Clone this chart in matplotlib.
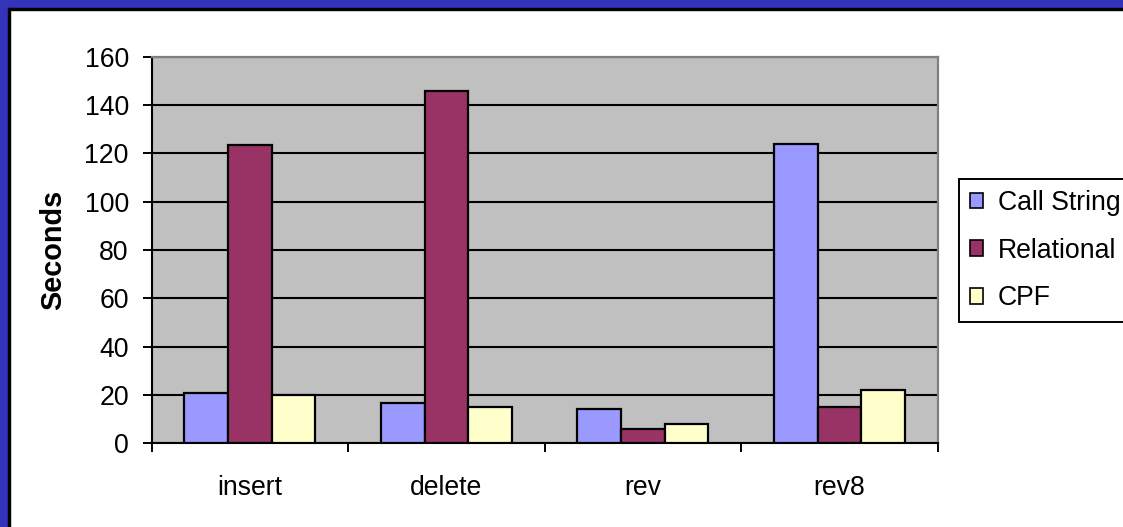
import matplotlib
matplotlib.use("Agg")
import matplotlib.pyplot as plt
import numpy as np
from matplotlib.patches import Rectangle

categories = ["insert", "delete", "rev", "rev8"]
series_names = ["Call String", "Relational", "CPF"]
call_string = [21, 16.5, 14, 124]
relational = [123.5, 146, 6, 15]
cpf = [20, 15, 8, 22]
colors = ["#9999FF", "#993366", "#FFFFCC"]
yticks = [0, 20, 40, 60, 80, 100, 120, 140, 160]

plt.rcParams['font.family'] = ['Liberation Sans', 'DejaVu Sans']

W, H = 1123, 527
FS = 19.2
fig = plt.figure(figsize=(W / 100, H / 100), dpi=100)
fig.patch.set_facecolor("white")

# frame (blue band + black line on top and left)
blue = "#3333BB"
fig.patches.append(Rectangle((0, 1 - 8 / H), 1, 8 / H, transform=fig.transFigure, color=blue, zorder=0))
fig.patches.append(Rectangle((8 / W, 1 - 10 / H), 1, 2 / H, transform=fig.transFigure, color="black", zorder=0))
fig.patches.append(Rectangle((0, 0), 8 / W, 1, transform=fig.transFigure, color=blue, zorder=0))
fig.patches.append(Rectangle((8 / W, 0), 2 / W, 1 - 8 / H, transform=fig.transFigure, color="black", zorder=0))

left, right = 151.7 / W, 937.7 / W
bottom, top = (H - 443.3) / H, (H - 56.7) / H
ax = fig.add_axes([left, bottom, right - left, top - bottom])
ax.set_facecolor("#C0C0C0")

n = len(categories)
x = np.arange(n)
bw = 1 / 4.5
data = [call_string, relational, cpf]
for i, (vals, name, c) in enumerate(zip(data, series_names, colors)):
    ax.bar(x + (i - 1) * bw, vals, width=bw, color=c, edgecolor="black",
           linewidth=1.6, label=name, zorder=3)

ax.set_xlim(-0.5, n - 0.5)
ax.set_ylim(0, 160)
ax.set_yticks(yticks)
ax.set_yticklabels([str(v) for v in yticks], fontsize=FS)
ax.yaxis.grid(True, color="black", linewidth=1.5, zorder=1)
ax.set_axisbelow(True)

ax.set_xticks(x)
ax.set_xticklabels(categories, fontsize=FS)
ax.set_xticks(np.arange(n + 1) - 0.5, minor=True)
ax.tick_params(axis="x", which="major", length=0, pad=22.5)
ax.tick_params(axis="x", which="minor", length=6.5, width=1.4, color="black", direction="out")
ax.tick_params(axis="y", length=6.5, width=1.4, color="black", direction="out", pad=10)

for s in ["left", "bottom"]:
    ax.spines[s].set_color("black")
    ax.spines[s].set_linewidth(1.5)
for s in ["top", "right"]:
    ax.spines[s].set_color("#808080")
    ax.spines[s].set_linewidth(1.6)

ax.set_ylabel("Seconds", fontsize=20.8, fontweight="bold")
ax.yaxis.set_label_coords((67 - 151.7) / 786, 0.5)

leg = fig.legend(loc="upper left", bbox_to_anchor=(959 / W, 1 - 179 / H),
                 bbox_transform=fig.transFigure, fontsize=FS, frameon=True,
                 fancybox=False, edgecolor="black", framealpha=1,
                 borderaxespad=0, borderpad=0.4, labelspacing=0.82,
                 handlelength=0.5, handleheight=0.5, handletextpad=0.55)
leg.get_frame().set_linewidth(1.4)
for h in leg.legend_handles:
    h.set_linewidth(1.2)

fig.savefig("out.png", dpi=100)
